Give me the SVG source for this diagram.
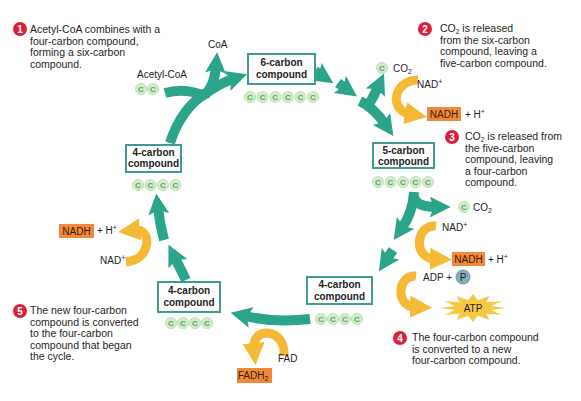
<svg xmlns="http://www.w3.org/2000/svg" width="581" height="401" viewBox="0 0 581 401">
<style>
text{font-family:"Liberation Sans",Arial,sans-serif;font-size:10px;fill:#1e1e1e}
.d text{font-size:10.5px}
.box{fill:#fff;stroke:#3f9d90;stroke-width:2}
.bt{font-weight:bold;text-anchor:middle}
.c{fill:#d3ecce;stroke:#bfe0b9;stroke-width:1}
.ct{font-size:8px;font-weight:bold;fill:#56a556;text-anchor:middle}
.o{fill:#f08a3a}
.ot{text-anchor:middle;fill:#3a1a08}
.s{fill:#d91f3b}
.d .st{fill:#fff;font-weight:bold;font-size:10px;text-anchor:middle}
.tl{fill:none;stroke:#2aa48b;stroke-width:10;marker-end:url(#ta)}
.tb{fill:none;stroke:#2aa48b;stroke-width:10}
.yl{fill:none;stroke:#f5b935;stroke-width:9;marker-end:url(#ya)}
</style>
<defs>
<marker id="ta" viewBox="0 0 20 20" refX="6" refY="10" markerWidth="21" markerHeight="21" markerUnits="userSpaceOnUse" orient="auto"><path d="M0,0 L20,10 L0,20 L4,10 z" fill="#2aa48b"/></marker>
<marker id="ya" viewBox="0 0 22 22" refX="5" refY="11" markerWidth="22" markerHeight="22" markerUnits="userSpaceOnUse" orient="auto"><path d="M0,0 L22,11 L0,22 z" fill="#f5b935"/></marker>
</defs>

<g id="connectors">
<path class="tb" d="M170,143 C178,118 190,103 206,93"/>
<path class="tb" d="M165,93 C182,88 194,92 206,96"/>
<path class="tl" d="M202,96 C214,87 224,82 233,79"/>
<path class="tl" d="M205,95 C212,88 215,80 216,67"/>
<path class="tl" d="M315,71 L321,75"/>
<path class="tl" d="M338,83 L345,88"/>
<path class="tl" d="M360,101 Q374,108 385,124"/>
<path class="tl" d="M368,106 Q374,96 378,87"/>
<path class="tl" d="M414,192 Q413,212 402,228"/>
<path class="tl" d="M414,196 Q415,207 436,207"/>
<path class="tl" d="M393,250 L387,259"/>
<path class="tl" d="M310,319 Q275,323 245,316"/>
<path class="tl" d="M186,280 L175,258"/>
<path class="tl" d="M164,240 Q160,225 158,208"/>
<path class="yl" d="M418,80 C394,80 388,110 410,114"/>
<path class="yl" d="M436,226 C416,224 412,258 435,259"/>
<path class="yl" d="M416,276 C398,274 394,306 415,307"/>
<path class="yl" d="M284,356 C286,328 252,326 254,348"/>
<path class="yl" d="M126,262 C152,260 152,228 135,230"/>
</g>

<g id="six-carbon">
<rect class="box" x="248" y="54" width="67" height="30"/>
<text class="bt" x="281.5" y="66">6-carbon</text>
<text class="bt" x="281.5" y="78">compound</text>
<circle class="c" cx="250" cy="97" r="5.5"/><text class="ct" x="250" y="100">C</text>
<circle class="c" cx="262.6" cy="97" r="5.5"/><text class="ct" x="262.6" y="100">C</text>
<circle class="c" cx="275.2" cy="97" r="5.5"/><text class="ct" x="275.2" y="100">C</text>
<circle class="c" cx="287.8" cy="97" r="5.5"/><text class="ct" x="287.8" y="100">C</text>
<circle class="c" cx="300.4" cy="97" r="5.5"/><text class="ct" x="300.4" y="100">C</text>
<circle class="c" cx="313" cy="97" r="5.5"/><text class="ct" x="313" y="100">C</text>
</g>

<g id="five-carbon">
<rect class="box" x="373" y="143" width="61" height="25"/>
<text class="bt" x="403.5" y="154">5-carbon</text>
<text class="bt" x="403.5" y="165">compound</text>
<circle class="c" cx="378" cy="182" r="5.5"/><text class="ct" x="378" y="185">C</text>
<circle class="c" cx="390.5" cy="182" r="5.5"/><text class="ct" x="390.5" y="185">C</text>
<circle class="c" cx="403" cy="182" r="5.5"/><text class="ct" x="403" y="185">C</text>
<circle class="c" cx="415.5" cy="182" r="5.5"/><text class="ct" x="415.5" y="185">C</text>
<circle class="c" cx="428" cy="182" r="5.5"/><text class="ct" x="428" y="185">C</text>
</g>

<g id="four-carbon-top">
<rect class="box" x="126" y="145" width="55" height="27"/>
<text class="bt" x="153.5" y="156">4-carbon</text>
<text class="bt" x="153.5" y="167">compound</text>
<circle class="c" cx="138" cy="185" r="5.5"/><text class="ct" x="138" y="188">C</text>
<circle class="c" cx="150.5" cy="185" r="5.5"/><text class="ct" x="150.5" y="188">C</text>
<circle class="c" cx="163" cy="185" r="5.5"/><text class="ct" x="163" y="188">C</text>
<circle class="c" cx="175.5" cy="185" r="5.5"/><text class="ct" x="175.5" y="188">C</text>
</g>

<g id="four-carbon-right">
<rect class="box" x="307" y="277" width="65" height="27"/>
<text class="bt" x="339.5" y="288">4-carbon</text>
<text class="bt" x="339.5" y="300">compound</text>
<circle class="c" cx="321" cy="319" r="5.5"/><text class="ct" x="321" y="322">C</text>
<circle class="c" cx="333" cy="319" r="5.5"/><text class="ct" x="333" y="322">C</text>
<circle class="c" cx="345" cy="319" r="5.5"/><text class="ct" x="345" y="322">C</text>
<circle class="c" cx="357" cy="319" r="5.5"/><text class="ct" x="357" y="322">C</text>
</g>

<g id="four-carbon-left">
<rect class="box" x="158" y="282" width="62" height="30"/>
<text class="bt" x="189" y="294">4-carbon</text>
<text class="bt" x="189" y="306">compound</text>
<circle class="c" cx="171" cy="323" r="5.5"/><text class="ct" x="171" y="326">C</text>
<circle class="c" cx="183" cy="323" r="5.5"/><text class="ct" x="183" y="326">C</text>
<circle class="c" cx="195" cy="323" r="5.5"/><text class="ct" x="195" y="326">C</text>
<circle class="c" cx="207" cy="323" r="5.5"/><text class="ct" x="207" y="326">C</text>
</g>

<g id="acetyl-coa">
<text x="137" y="78">Acetyl-CoA</text>
<circle class="c" cx="141" cy="89" r="5.5"/><text class="ct" x="141" y="92">C</text>
<circle class="c" cx="153" cy="89" r="5.5"/><text class="ct" x="153" y="92">C</text>
</g>
<g id="coa"><text x="208" y="48">CoA</text></g>

<g id="co2-top">
<circle class="c" cx="382" cy="68" r="5.5"/><text class="ct" x="382" y="71">C</text>
<text x="393" y="72">CO<tspan font-size="7" dy="2">2</tspan></text>
</g>
<g id="nad-top">
<text x="417" y="88">NAD<tspan font-size="7" dy="-4">+</tspan></text>
<rect class="o" x="427" y="107" width="34" height="14"/>
<text class="ot" x="444" y="118">NADH</text>
<text x="465" y="118">+ H<tspan font-size="7" dy="-4">+</tspan></text>
</g>

<g id="co2-mid">
<circle class="c" cx="464" cy="207" r="5.5"/><text class="ct" x="464" y="210">C</text>
<text x="473" y="211">CO<tspan font-size="7" dy="2">2</tspan></text>
</g>
<g id="nad-mid">
<text x="442" y="231">NAD<tspan font-size="7" dy="-4">+</tspan></text>
<rect class="o" x="452" y="252" width="33" height="14"/>
<text class="ot" x="468.5" y="263">NADH</text>
<text x="488" y="263">+ H<tspan font-size="7" dy="-4">+</tspan></text>
</g>

<g id="atp">
<text x="423" y="281">ADP +</text>
<circle cx="463" cy="277" r="7" fill="#86aebb" stroke="#6f98a6" stroke-width="1"/>
<text x="463" y="281" text-anchor="middle" fill="#1e3a44">P</text>
<polygon fill="#f7c844" points="506,308 491.4,310.1 501.6,315 486.4,313.7 489.5,320.1 477.9,315.7 473,322 468.1,315.7 456.5,320.1 459.6,313.7 444.4,315 454.6,310.1 440,308 454.6,305.9 444.4,301 459.6,302.3 456.5,295.9 468.1,300.3 473,294 477.9,300.3 489.5,295.9 486.4,302.3 501.6,301 491.4,305.9"/>
<text x="473" y="312" text-anchor="middle">ATP</text>
</g>

<g id="fad">
<text x="278" y="362">FAD</text>
<rect class="o" x="237" y="368" width="35" height="15"/>
<text class="ot" x="253" y="379">FADH<tspan font-size="7" dy="2">2</tspan></text>
</g>

<g id="nad-left">
<rect class="o" x="59" y="224" width="35" height="14"/>
<text class="ot" x="76.5" y="235">NADH</text>
<text x="97" y="234">+ H<tspan font-size="7" dy="-4">+</tspan></text>
<text x="100" y="264">NAD<tspan font-size="7" dy="-4">+</tspan></text>
</g>

<g id="step1" class="d">
<circle class="s" cx="20" cy="29" r="7"/><text class="st" x="20" y="33">1</text>
<text x="30" y="33">Acetyl-CoA combines with a</text>
<text x="30" y="45">four-carbon compound,</text>
<text x="30" y="56">forming a six-carbon</text>
<text x="30" y="68">compound.</text>
</g>
<g id="step2" class="d">
<circle class="s" cx="425" cy="29" r="7"/><text class="st" x="425" y="33">2</text>
<text x="440" y="32">CO<tspan font-size="6.5" dy="2">2</tspan><tspan dy="-2"> is released</tspan></text>
<text x="440" y="44">from the six-carbon</text>
<text x="440" y="55">compound, leaving a</text>
<text x="440" y="67">five-carbon compound.</text>
</g>
<g id="step3" class="d">
<circle class="s" cx="452" cy="137" r="7"/><text class="st" x="452" y="141">3</text>
<text x="465" y="140">CO<tspan font-size="6.5" dy="2">2</tspan><tspan dy="-2"> is released from</tspan></text>
<text x="465" y="152">the five-carbon</text>
<text x="465" y="163">compound, leaving</text>
<text x="465" y="175">a four-carbon</text>
<text x="465" y="186">compound.</text>
</g>
<g id="step4" class="d">
<circle class="s" cx="400" cy="338" r="7"/><text class="st" x="400" y="342">4</text>
<text x="412" y="341">The four-carbon compound</text>
<text x="412" y="353">is converted to a new</text>
<text x="412" y="364">four-carbon compound.</text>
</g>
<g id="step5" class="d">
<circle class="s" cx="20" cy="311" r="7"/><text class="st" x="20" y="315">5</text>
<text x="30" y="314">The new four-carbon</text>
<text x="30" y="326">compound is converted</text>
<text x="30" y="337">to the four-carbon</text>
<text x="30" y="349">compound that began</text>
<text x="30" y="360">the cycle.</text>
</g>
</svg>
